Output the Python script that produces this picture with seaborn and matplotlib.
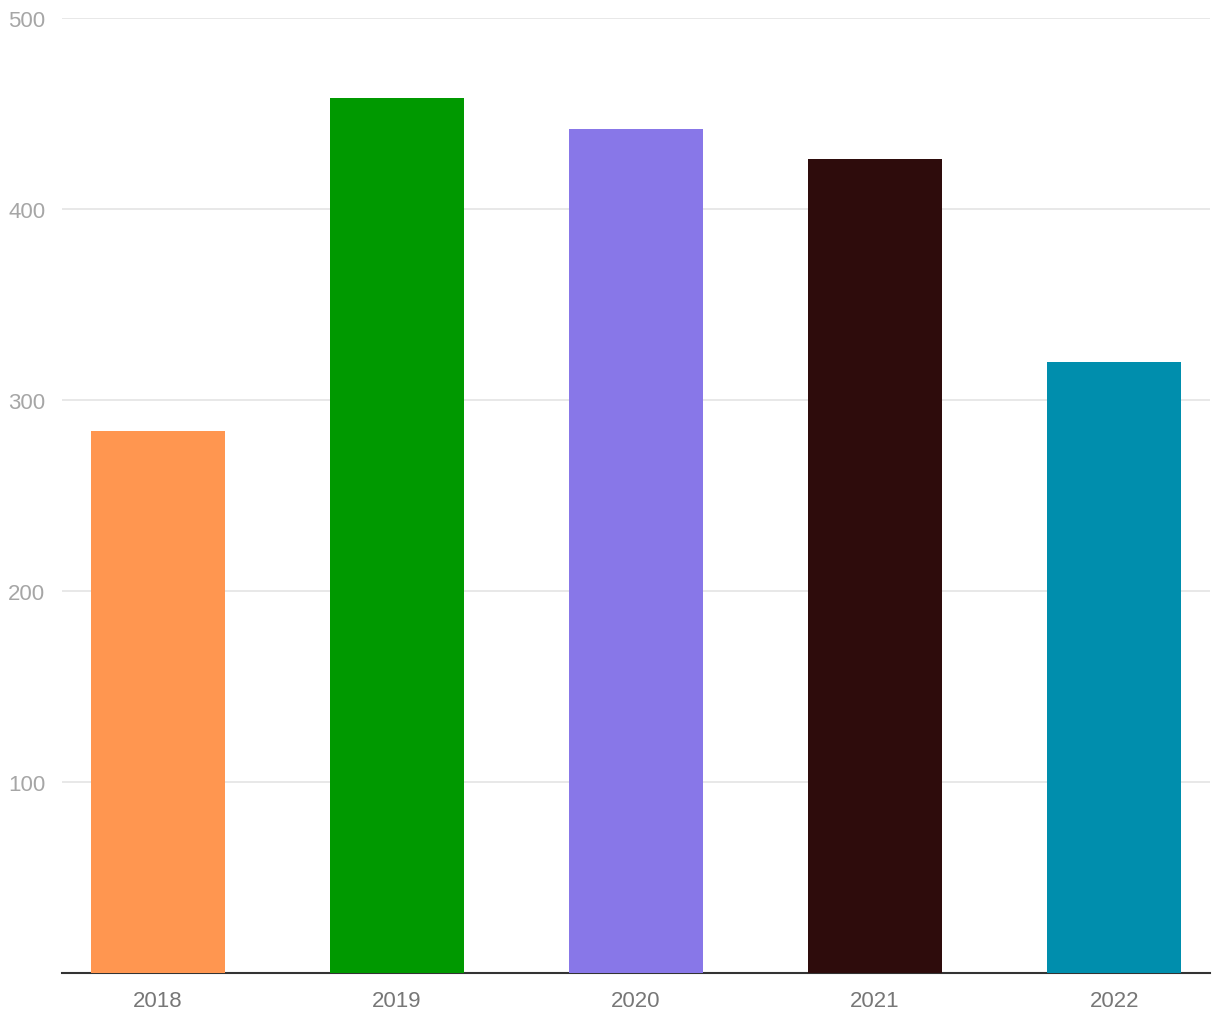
import matplotlib
matplotlib.use("Agg")
import matplotlib.pyplot as plt
import pandas as pd
import seaborn as sns

# 데이터
years = ["2018", "2019", "2020", "2021", "2022"]
values = [284, 458, 442, 426, 320]
bar_colors = ["#FF9650", "#009900", "#8877E8", "#2E0C0C", "#008EAD"]

df = pd.DataFrame({"year": years, "value": values})

sns.set_style("white")
plt.rcParams['font.family'] = ['Liberation Sans', 'DejaVu Sans']

fig = plt.figure(figsize=(12.2, 10.2), dpi=100)
ax = fig.add_axes([62 / 1220, 46 / 1020, 1148 / 1220, 955 / 1020])

sns.barplot(data=df, x="year", y="value", hue="year", palette=bar_colors,
            width=0.56, saturation=1, legend=False, linewidth=0, ax=ax, zorder=3)

ax.set_xlim(-0.4, 4.4)
ax.set_ylim(0, 500)
ax.set_yticks([100, 200, 300, 400, 500])
ax.yaxis.grid(True, color="#e6e6e6", linewidth=1.3, zorder=0)
ax.set_axisbelow(True)

for s in ["top", "right", "left"]:
    ax.spines[s].set_visible(False)
ax.spines["bottom"].set_color("#333333")
ax.spines["bottom"].set_linewidth(1.5)

ax.tick_params(axis="y", length=0, pad=12, labelsize=16, labelcolor="#a6a6a6")
ax.tick_params(axis="x", length=0, pad=12, labelsize=16, labelcolor="#777777")
ax.set_xlabel("")
ax.set_ylabel("")

fig.savefig("out.png", dpi=100)
